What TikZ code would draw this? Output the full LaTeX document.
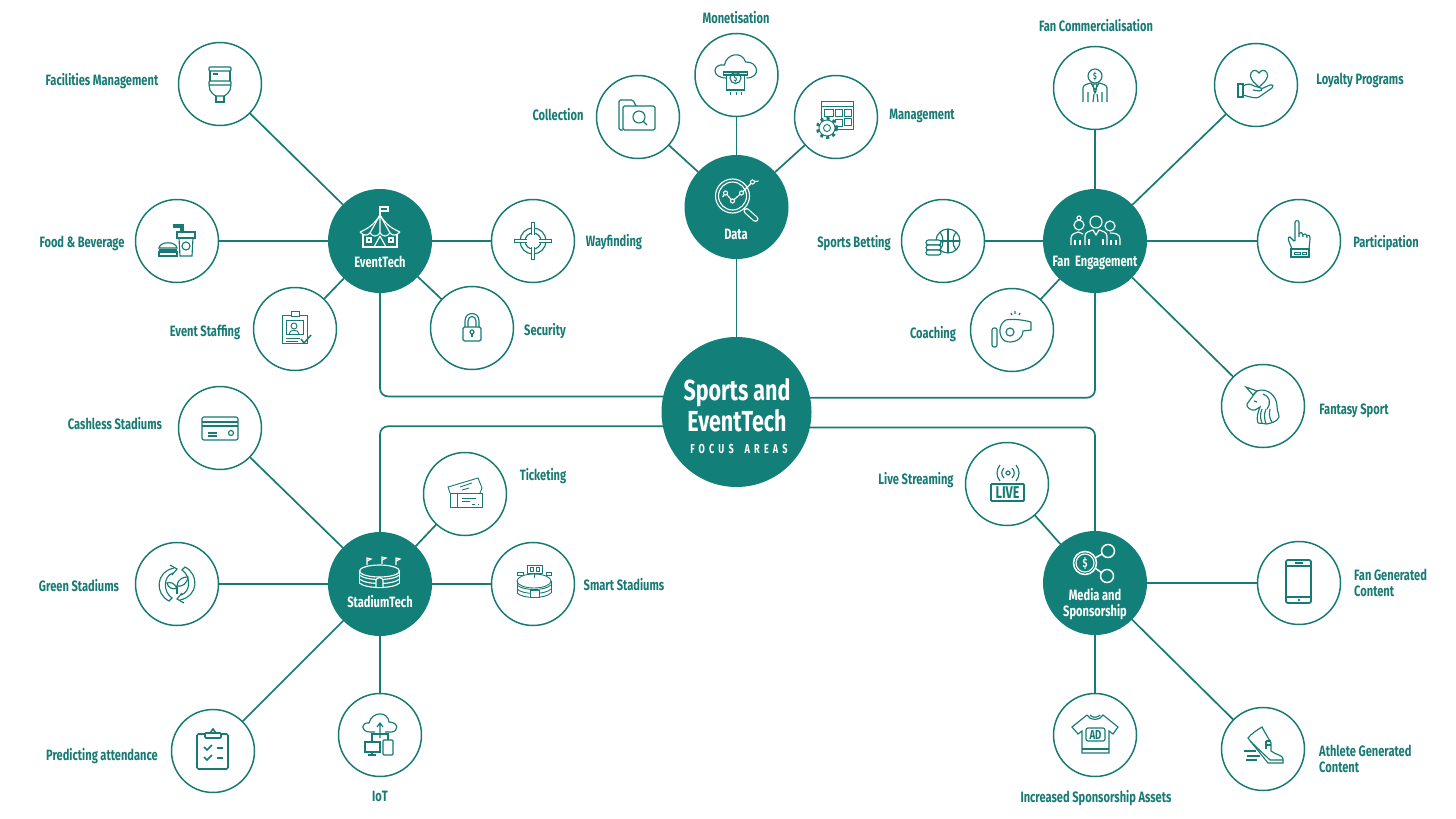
\documentclass[tikz,border=0pt]{standalone}
\usepackage{fontspec}
\setmainfont{Fira Sans}[FakeStretch=0.74]
\newfontfamily\spacedfont{Fira Sans}[LetterSpace=32,FakeStretch=0.7]
\definecolor{sportteal}{RGB}{18,128,120}
\definecolor{inkteal}{RGB}{24,122,116}
\tikzset{
	hub/.style={circle,fill=sportteal,inner sep=0,outer sep=0,minimum size=104pt},
	mainhub/.style={circle,fill=sportteal,inner sep=0,outer sep=0,minimum size=150pt},
	spoke/.style={draw=inkteal,line width=1.5pt,circle,fill=white,inner sep=0,outer sep=0,minimum size=83pt},
	link/.style={draw=inkteal,line width=1.7pt},
	tag/.style={text=inkteal,font=\bfseries\fontsize{15}{16}\selectfont,align=left,inner sep=0,yshift=-1.5pt},
	hubtag/.style={text=white,font=\bfseries\fontsize{15}{16}\selectfont,align=center,inner sep=0,yshift=-1pt},
	glyph/.style={font=\bfseries\fontsize{#1}{#1}\selectfont,inner sep=0},
	tealicon/.style={inkteal,line width=1.15pt},
	whiteicon/.style={white,line width=1.15pt},
}
\newcommand{\iconat}[3]{\begin{scope}[shift={(#1)},#2]#3\end{scope}}
\begin{document}
\begin{tikzpicture}[x=1pt,y=-1pt]
	\useasboundingbox (0,0) rectangle (1456,819);
	\node[mainhub] (focus) at (736.5,412) {};
	\node[hub] (event) at (380,241) {};
	\node[hub] (data) at (736.5,207) {};
	\node[hub] (fan) at (1095,241) {};
	\node[hub] (stadium) at (380,584) {};
	\node[hub] (media) at (1095,583) {};
	\node[spoke] (facilities) at (220,84) {};
	\node[spoke] (food) at (177,241) {};
	\node[spoke] (staffing) at (295,329) {};
	\node[spoke] (wayfinding) at (533,241) {};
	\node[spoke] (security) at (472,328) {};
	\node[spoke] (collection) at (638,117) {};
	\node[spoke] (monetise) at (736.5,75) {};
	\node[spoke] (manage) at (836,117) {};
	\node[spoke] (commerce) at (1095,88) {};
	\node[spoke] (loyalty) at (1256,85) {};
	\node[spoke] (participate) at (1299,241) {};
	\node[spoke] (betting) at (943,241) {};
	\node[spoke] (coaching) at (1012,330) {};
	\node[spoke] (fantasy) at (1263,406) {};
	\node[spoke] (cashless) at (220,428) {};
	\node[spoke] (green) at (177,584) {};
	\node[spoke] (ticketing) at (465,494) {};
	\node[spoke] (smart) at (533,584) {};
	\node[spoke] (predict) at (213,751) {};
	\node[spoke] (iot) at (380,735) {};
	\node[spoke] (live) at (1007,484) {};
	\node[spoke] (fangen) at (1299,583) {};
	\node[spoke] (assets) at (1095,735) {};
	\node[spoke] (athlete) at (1263,749) {};

	\draw[link,rounded corners=8pt] (event.south) |- (focus.168.5);
	\draw[link,rounded corners=8pt] (fan.south) |- (focus.11.5);
	\draw[link,rounded corners=8pt] (stadium.north) |- (focus.191.7);
	\draw[link,rounded corners=8pt] (media.north) |- (focus.-12.3);
	\draw[link] (data) -- (focus);
	\draw[link] (event) -- (facilities);
	\draw[link] (event) -- (food);
	\draw[link] (event) -- (staffing);
	\draw[link] (event) -- (wayfinding);
	\draw[link] (event) -- (security);
	\draw[link] (data) -- (collection);
	\draw[link] (data) -- (monetise);
	\draw[link] (data) -- (manage);
	\draw[link] (fan) -- (commerce);
	\draw[link] (fan) -- (loyalty);
	\draw[link] (fan) -- (participate);
	\draw[link] (fan) -- (betting);
	\draw[link] (fan) -- (coaching);
	\draw[link] (fan) -- (fantasy);
	\draw[link] (stadium) -- (cashless);
	\draw[link] (stadium) -- (green);
	\draw[link] (stadium) -- (ticketing);
	\draw[link] (stadium) -- (smart);
	\draw[link] (stadium) -- (predict);
	\draw[link] (stadium) -- (iot);
	\draw[link] (media) -- (live);
	\draw[link] (media) -- (fangen);
	\draw[link] (media) -- (assets);
	\draw[link] (media) -- (athlete);

	\node[tag] (tfacilities) at (102,80) {Facilities Management};
	\node[tag] (tfood) at (82,242) {Food \& Beverage};
	\node[tag] (tstaffing) at (205,331) {Event Staffing};
	\node[tag] (twayfinding) at (614,241) {Wayfinding};
	\node[tag] (tsecurity) at (545,330) {Security};
	\node[tag] (tcollection) at (558,113) {Collection};
	\node[tag] (tmonetise) at (736,16) {Monetisation};
	\node[tag] (tmanage) at (922,114) {Management};
	\node[tag] (tcommerce) at (1096,24) {Fan Commercialisation};
	\node[tag] (tloyalty) at (1360,79) {Loyalty Programs};
	\node[tag] (tparticipate) at (1386,242) {Participation};
	\node[tag] (tbetting) at (854,242) {Sports Betting};
	\node[tag] (tcoaching) at (933,333) {Coaching};
	\node[tag] (tfantasy) at (1354,409) {Fantasy Sport};
	\node[tag] (tcashless) at (115,422) {Cashless Stadiums};
	\node[tag] (tgreen) at (79,584) {Green Stadiums};
	\node[tag] (tticketing) at (543,475) {Ticketing};
	\node[tag] (tsmart) at (624,583) {Smart Stadiums};
	\node[tag] (tpredict) at (102,755) {Predicting attendance};
	\node[tag] (tiot) at (380,795) {IoT};
	\node[tag] (tlive) at (916,479) {Live Streaming};
	\node[tag,anchor=west] (tfangen) at (1354,581) {Fan Generated\\Content};
	\node[tag] (tassets) at (1096,797) {Increased Sponsorship Assets};
	\node[tag,anchor=west] (tathlete) at (1319,757) {Athlete Generated\\Content};

	\node[hubtag] (tevent) at (380,261) {EventTech};
	\node[hubtag] (tdata) at (736,233) {Data};
	\node[hubtag] (tfan) at (1095,262) {Fan\ \ Engagement};
	\node[hubtag] (tstadium) at (380,601) {StadiumTech};
	\node[hubtag] (tmedia) at (1095,603) {Media and\\Sponsorship};
	\node[text=white,font=\bfseries\fontsize{29}{31}\selectfont,align=center,inner sep=0] (tfocus) at (737,405) {Sports and\\EventTech};
	\node[text=white,font=\spacedfont\bfseries\fontsize{13}{14}\selectfont,inner sep=0] (tareas) at (739,449) {FOCUS\hspace{11pt}AREAS};

	\iconat{facilities}{tealicon}{
		\draw[rounded corners=1pt] (-11,-17) rectangle (11,-13);
		\draw (-10,-13) -- (-10,-3) (10,-13) -- (10,-3) (-7,-10) -- (-2,-10);
		\draw[rounded corners=1pt] (-11,-3) rectangle (11,1);
		\draw (-11,1) .. controls (-11,8) and (-6,11) .. (-4,12) -- (4,12) .. controls (6,11) and (11,8) .. (11,1);
		\draw (-4,12) -- (-4,18) -- (4,18) -- (4,12);
	}
	\iconat{food}{tealicon}{
		\draw (-18,7) .. controls (-17,0) and (-1,0) .. (0,7) -- cycle;
		\draw (-18,9) -- (0,9);
		\draw (-18,11) rectangle (0,15);
		\draw (0,-9) rectangle (18,-3);
		\draw (2,-3) -- (3,15) -- (15,15) -- (16,-3);
		\draw (9,5) circle (4);
		\draw (-4,-16) -- (6,-16) -- (6,-9) (-4,-14) -- (4,-14) -- (4,-9);
	}
	\iconat{staffing}{tealicon,line width=0.9pt}{
		\draw (-13,-14) rectangle (12,14);
		\draw[fill=white] (-4,-18) rectangle (4,-13);
		\draw (-9,-9) rectangle (8,5);
		\draw (-1,-3) circle (3);
		\draw (-6,5) .. controls (-6,0) and (4,0) .. (4,5);
		\draw (-9,9) -- (5,9) (-9,12) -- (3,12);
		\draw[line width=1.5pt] (6,10) -- (9,14) -- (16,6);
	}
	\iconat{wayfinding}{tealicon}{
		\draw (0,0) circle (13);
		\draw (0,0) circle (8);
		\draw[line width=3.4pt] (0,-19) -- (0,-6) (0,6) -- (0,19) (-19,0) -- (-6,0) (6,0) -- (19,0);
		\draw[white,line width=1.2pt] (0,-18) -- (0,-6) (0,6) -- (0,18) (-18,0) -- (-6,0) (6,0) -- (18,0);
	}
	\iconat{security}{tealicon}{
		\draw[rounded corners=1.5pt] (-9,-1) rectangle (9,13);
		\draw (-7,-1) -- (-7,-7) .. controls (-7,-17) and (7,-17) .. (7,-7) -- (7,-1);
		\draw (-4,-1) -- (-4,-7) .. controls (-4,-13) and (4,-13) .. (4,-7) -- (4,-1);
		\draw (0,4) circle (2);
		\draw (0,6) -- (0,9);
	}
	\iconat{collection}{tealicon}{
		\draw[rounded corners=1.5pt] (-15,13) -- (-19,13) -- (-19,-17) -- (-5,-17) -- (-2,-11);
		\draw[rounded corners=1.5pt] (-15,-11) rectangle (17,13);
		\draw (1,0) circle (6);
		\draw (5,4) -- (9,8);
	}
	\iconat{monetise}{tealicon}{
		\draw (-10,3) .. controls (-26,3) and (-24,-12) .. (-12,-10) .. controls (-10,-22) and (6,-24) .. (9,-13) .. controls (22,-14) and (25,3) .. (10,3);
		\draw[fill=white] (-13,-3) rectangle (11,0);
		\draw[fill=white] (-10,0) rectangle (8,15);
		\draw (-1,3) circle (5.5);
		\node[glyph=9] (dollarone) at (-1,3) {\$};
		\draw[dashed] (-6,17) -- (-6,23) (0,17) -- (0,23) (5,17) -- (5,23);
	}
	\iconat{manage}{tealicon,line width=0.9pt}{
		\draw (-15,-16) rectangle (17,12);
		\draw (-15,-11) -- (17,-11);
		\draw (-12,-8) rectangle (-3,-1) (-1,-8) rectangle (6,-1) (8,-8) rectangle (15,-1);
		\draw (-1,2) rectangle (6,9) (8,1) rectangle (15,8);
		\fill[white] (-9,11) circle (10);
		\draw[line width=3pt,dash pattern=on 3pt off 3.3pt] (-9,11) circle (9.5);
		\draw[fill=white] (-9,11) circle (8);
		\draw (-9,11) circle (3.5);
	}
	\iconat{data}{whiteicon}{
		\draw (-4,-11) circle (17);
		\draw (-4,-11) circle (14);
		\draw (-14,-10) -- (-11,-14) -- (-4,-6) -- (5,-14) -- (16,-25) -- (22,-26);
		\draw[fill=sportteal] (-11,-14) circle (2) (-4,-6) circle (2) (5,-14) circle (2) (16,-25) circle (2);
		\draw[line width=6pt,line cap=round] (10,4) -- (19,12);
		\draw[sportteal,line width=3.6pt,line cap=round] (10,4) -- (19,12);
	}
	\iconat{commerce}{tealicon}{
		\draw (0,-12) circle (7);
		\node[glyph=9] (dollartwo) at (0,-12) {\$};
		\draw (-12,14) -- (-12,0) .. controls (-12,-3) and (-8,-4) .. (-4,-5) -- (0,2) -- (4,-5) .. controls (8,-4) and (12,-3) .. (12,0) -- (12,14);
		\draw (-7,4) -- (-7,14) (7,4) -- (7,14) (-2,14) -- (-1,6) (3,14) -- (2,6);
		\draw (-2,-4) -- (2,-4) -- (1,3) -- (0,5) -- (-1,3) -- cycle;
	}
	\iconat{loyalty}{tealicon}{
		\draw (3,2) .. controls (-4,-4) and (-7,-8) .. (-5,-12) .. controls (-3,-16) and (1,-15) .. (3,-12) .. controls (5,-15) and (9,-16) .. (11,-12) .. controls (13,-8) and (10,-4) .. (3,2);
		\draw (-18,-1) rectangle (-13,12);
		\draw (-13,1) .. controls (-8,-2) and (-5,-1) .. (-2,1) -- (5,3) .. controls (7,4) and (5,7) .. (3,6) -- (-3,5);
		\draw (5,4) -- (14,0) .. controls (17,-1) and (18,2) .. (16,3) -- (3,12) .. controls (0,14) and (-6,12) .. (-13,10);
	}
	\iconat{fan}{whiteicon}{
		\draw (1,-19) circle (6);
		\draw (-10,4) -- (-10,-5) .. controls (-10,-9) and (-5,-10) .. (-2,-11) -- (1,-6) -- (4,-11) .. controls (7,-10) and (12,-9) .. (12,-5) -- (12,4);
		\draw (-6,-2) -- (-6,4) (8,-2) -- (8,4);
		\draw (-16,-16) circle (5);
		\draw (-16,-23) circle (2);
		\draw (-24,4) -- (-24,-3) .. controls (-24,-7) and (-20,-8) .. (-17,-9) .. controls (-15,-8) and (-13,-8) .. (-12,-7);
		\draw (-20,-1) -- (-20,4) (-15,-1) -- (-15,4);
		\draw (15,-15) circle (5);
		\draw (15,-8) .. controls (20,-8) and (25,-7) .. (25,-2) -- (25,4);
		\draw (21,-1) -- (21,4) (16,-1) -- (16,4);
	}
	\iconat{betting}{tealicon}{
		\draw (5,0) circle (12);
		\draw (5,-12) -- (5,12) (-7,0) -- (17,0);
		\draw (-3,-9) .. controls (1,-4) and (1,4) .. (-3,9);
		\draw (13,-9) .. controls (9,-4) and (9,4) .. (13,9);
		\draw[fill=white,rounded corners=2.5pt] (-17,-1) rectangle (-2,4);
		\draw[fill=white,rounded corners=2.5pt] (-17,4) rectangle (-2,9);
		\draw[fill=white,rounded corners=2.5pt] (-17,9) rectangle (-2,14);
	}
	\iconat{participate}{tealicon}{
		\draw[rounded corners=1.5pt] (-7,8) -- (-11,-2) -- (-10,-5) -- (-4,1) -- (-4,-17) .. controls (-4,-21) and (0,-21) .. (0,-17) -- (0,-4);
		\draw (0,-7) .. controls (2,-10) and (4,-8) .. (4,-4);
		\draw (4,-6) .. controls (6,-8) and (8,-7) .. (8,-3);
		\draw (8,-5) .. controls (10,-7) and (11,-5) .. (11,-2) -- (10,8);
		\draw (-8,8) rectangle (10,16);
		\draw[line width=0.7pt] (-5,11) rectangle (1,13) (3,11) rectangle (7,13);
	}
	\iconat{coaching}{tealicon}{
		\draw (19,-8) -- (19,0) -- (11,1) .. controls (11,10) and (0,14) .. (-7,11) .. controls (-14,7) and (-14,-6) .. (-6,-10) .. controls (-3,-11) and (8,-11) .. (19,-8);
		\draw (-2,2) circle (4);
		\draw[rounded corners=2pt,fill=white] (-20,-2) rectangle (-15,17);
		\draw (0,-15) -- (-1,-17) (3,-16) -- (3,-19) (7,-15) -- (8,-17);
	}
	\iconat{fantasy}{tealicon}{
		\draw (-17,-19) -- (-6,-15) -- (-10,-11) -- cycle;
		\draw (-8,-13) -- (-16,-2) .. controls (-17,1) and (-12,5) .. (-8,4) -- (-3,1) .. controls (-5,6) and (-7,12) .. (-5,17);
		\draw (-6,-15) .. controls (4,-19) and (14,-10) .. (14,0) .. controls (14,5) and (16,8) .. (16,11) .. controls (14,16) and (8,17) .. (4,18) -- (-5,17);
		\draw (0,-12) .. controls (6,-10) and (9,-4) .. (4,3);
		\draw (3,3) .. controls (1,8) and (1,12) .. (3,18);
		\draw (7,3) .. controls (6,8) and (6,12) .. (9,16);
		\draw (-1,3) .. controls (-3,8) and (-3,12) .. (-1,17);
		\draw (-9,-5) -- (-6,-4);
	}
	\iconat{cashless}{tealicon}{
		\draw[rounded corners=2pt] (-18,-11) rectangle (18,12);
		\draw (-18,-6) -- (18,-6) (-18,-2) -- (18,-2);
		\draw (-12,5) -- (-3,5) (-12,8) -- (-3,8);
		\draw (11,5) circle (2.5);
	}
	\iconat{green}{tealicon}{
		\draw (-3,-16) .. controls (-22,-12) and (-22,10) .. (-8,17) -- (-5,14) .. controls (-14,8) and (-14,-8) .. (-4,-11);
		\draw (-7,-19) -- (0,-15) -- (-5,-9);
		\draw (3,16) .. controls (22,12) and (22,-10) .. (8,-17) -- (5,-14) .. controls (14,-8) and (14,8) .. (4,11);
		\draw (7,19) -- (0,15) -- (5,9);
		\draw (0,10) -- (0,2);
		\draw (0,2) .. controls (1,-6) and (7,-7) .. (11,-7) .. controls (10,0) and (5,3) .. (0,2);
		\draw (0,4) .. controls (-3,-2) and (-8,-2) .. (-10,-1) .. controls (-9,4) and (-4,6) .. (0,4);
	}
	\iconat{ticketing}{tealicon,line width=0.9pt}{
		\draw (-15,-1) -- (-17,-7) -- (13,-16) -- (17,-6) -- (15,-1);
		\draw (-5,-7) -- (7,-11) (-3,-4) -- (4,-6);
		\draw (-15,-1) rectangle (17,13);
		\draw (-8,-1) -- (-8,13) (-3,4) -- (11,4) (-3,7) -- (5,7);
		\draw[dashed] (7,10) -- (14,10);
	}
	\iconat{smart}{tealicon,line width=0.9pt}{
		\draw (-6,-19) rectangle (9,-11);
		\draw (-3,-17) rectangle (0,-13) (3,-17) rectangle (6,-13);
		\draw (1,-11) -- (1,-6);
		\draw (1,-3) ellipse [x radius=17,y radius=7];
		\draw (-16,-3) -- (-16,9) (18,-3) -- (18,9);
		\draw (-16,1) .. controls (-10,7) and (12,7) .. (18,1);
		\draw (-16,5) .. controls (-10,11) and (12,11) .. (18,5);
		\draw (-16,9) .. controls (-10,15) and (12,15) .. (18,9);
		\draw[fill=white] (-3,6) rectangle (6,13);
		\draw (-16,-12) rectangle (-10,-9) (13,-12) rectangle (18,-9);
	}
	\iconat{predict}{tealicon,line width=1.6pt}{
		\draw[rounded corners=1.5pt] (-16,-17) rectangle (15,18);
		\draw[fill=white,rounded corners=1pt] (-8,-18) rectangle (8,-13);
		\draw (-3,-18) -- (0,-22) -- (3,-18);
		\draw (-9,-4) -- (-6,-1) -- (-1,-6) (-9,6) -- (-6,9) -- (-1,4);
		\draw (4,-3) -- (10,-3) (4,7) -- (10,7);
	}
	\iconat{iot}{tealicon}{
		\draw (-5,-3) -- (-10,-3) .. controls (-20,-3) and (-19,-13) .. (-11,-12) .. controls (-8,-24) and (8,-24) .. (9,-13) .. controls (19,-13) and (19,-3) .. (11,-3) -- (5,-3);
		\draw (0,3) -- (0,-12) (-3,-8) -- (0,-12) -- (3,-8);
		\draw (-8,7) -- (-8,-1) -- (8,-1) -- (8,5);
		\draw (-15,7) rectangle (0,17);
		\draw (-8,17) -- (-8,20) (-12,20) -- (-4,20);
		\draw[rounded corners=1pt] (3,5) rectangle (13,20);
	}
	\iconat{live}{tealicon}{
		\draw[line width=1.8pt,rounded corners=1pt] (-16,0) rectangle (17,17);
		\node[glyph=17] (livetext) at (0.5,8.5) {LIVE};
		\draw (1,-11) circle (2);
		\draw (-3,-16) .. controls (-6,-13) and (-6,-9) .. (-3,-6) (5,-16) .. controls (8,-13) and (8,-9) .. (5,-6);
		\draw (-7,-19) .. controls (-11,-14) and (-11,-8) .. (-7,-3) (9,-19) .. controls (13,-14) and (13,-8) .. (9,-3);
	}
	\iconat{media}{whiteicon}{
		\draw[line width=1.5pt] (-10,-20) circle (11.5);
		\draw (-10,-20) circle (9);
		\node[glyph=12] (dollarthree) at (-10,-20) {\$};
		\draw[line width=1.5pt] (13,-32) circle (6.5) (12,-7) circle (6.5);
		\draw[line width=1.5pt] (0,-25) -- (7,-29) (0,-15) -- (7,-10);
	}
	\iconat{fangen}{tealicon,line width=1.8pt}{
		\draw[rounded corners=2pt] (-13,-23) rectangle (12,20);
		\draw (-13,-17) -- (12,-17) (-13,14) -- (12,14) (-4,-20) -- (4,-20);
		\fill (0,17) circle (1.3);
	}
	\iconat{assets}{tealicon}{
		\draw (-8,-20) -- (-23,-8) -- (-17,-1) -- (-13,-4) -- (-13,18) -- (14,18) -- (14,-4) -- (18,-1) -- (23,-8) -- (8,-20) .. controls (5,-14) and (-5,-14) .. (-8,-20);
		\draw (-5,-20) .. controls (-3,-17) and (3,-17) .. (5,-20);
		\draw[fill=white,rounded corners=2pt] (-9,-7) rectangle (10,6);
		\node[glyph=13] (adtext) at (0.5,-0.5) {AD};
		\draw (-13,14) -- (14,14);
	}
	\iconat{athlete}{tealicon}{
		\draw (-15,-11) .. controls (-12,-15) and (-6,-19) .. (-1,-22) .. controls (2,-16) and (6,-10) .. (8,-6) -- (8,2) .. controls (13,6) and (20,6) .. (20,10) -- (20,14) -- (5,14) -- cycle;
		\draw (-13,-8) -- (7,11) -- (20,11);
		\draw (3,-8) -- (8,-8) (3,-4) -- (8,-4) (3,-8) -- (3,0);
		\draw (-19,2) -- (-7,2) (-16,7) -- (-3,7) (-17,11) -- (-6,11);
	}
	\iconat{event}{whiteicon}{
		\draw (0,-26) -- (0,-34);
		\draw (0,-34) rectangle (8,-30);
		\draw (0,-26) .. controls (-6,-16) and (-13,-12) .. (-20,-9);
		\draw (0,-26) .. controls (6,-16) and (13,-12) .. (20,-9);
		\draw (0,-26) -- (-10,-8) (0,-26) -- (0,-8) (0,-26) -- (10,-8);
		\draw (-20,-9) .. controls (-16,-5) and (-13,-5) .. (-10,-8) .. controls (-7,-4) and (-3,-4) .. (0,-8) .. controls (3,-4) and (7,-4) .. (10,-8) .. controls (13,-5) and (16,-5) .. (20,-9);
		\draw (-17,-6) -- (-17,6) -- (17,6) -- (17,-6);
		\draw (0,-5) -- (-6,6) (0,-5) -- (6,6);
		\draw (-13,-3) rectangle (-9,1) (9,-3) rectangle (13,1);
	}
	\iconat{stadium}{whiteicon}{
		\draw (-13,-19) -- (-13,-26) -- (-9,-25) -- (-13,-23);
		\draw (2,-20) -- (2,-27) -- (6,-26) -- (2,-24);
		\draw (16,-19) -- (16,-26) -- (20,-25) -- (16,-23);
		\draw (-0.5,-13) ellipse [x radius=20,y radius=6];
		\draw (-20.5,-13) -- (-20.5,-1) (19.5,-13) -- (19.5,-1);
		\draw (-20.5,-9) .. controls (-14,-3) and (13,-3) .. (19.5,-9);
		\draw (-20.5,-5) .. controls (-14,1) and (13,1) .. (19.5,-5);
		\draw (-20.5,-1) .. controls (-14,5) and (13,5) .. (19.5,-1);
		\draw[fill=sportteal] (-4,3) -- (-4,-4) .. controls (-3,-7) and (2,-7) .. (3,-4) -- (3,3);
	}
\end{tikzpicture}
\end{document}
